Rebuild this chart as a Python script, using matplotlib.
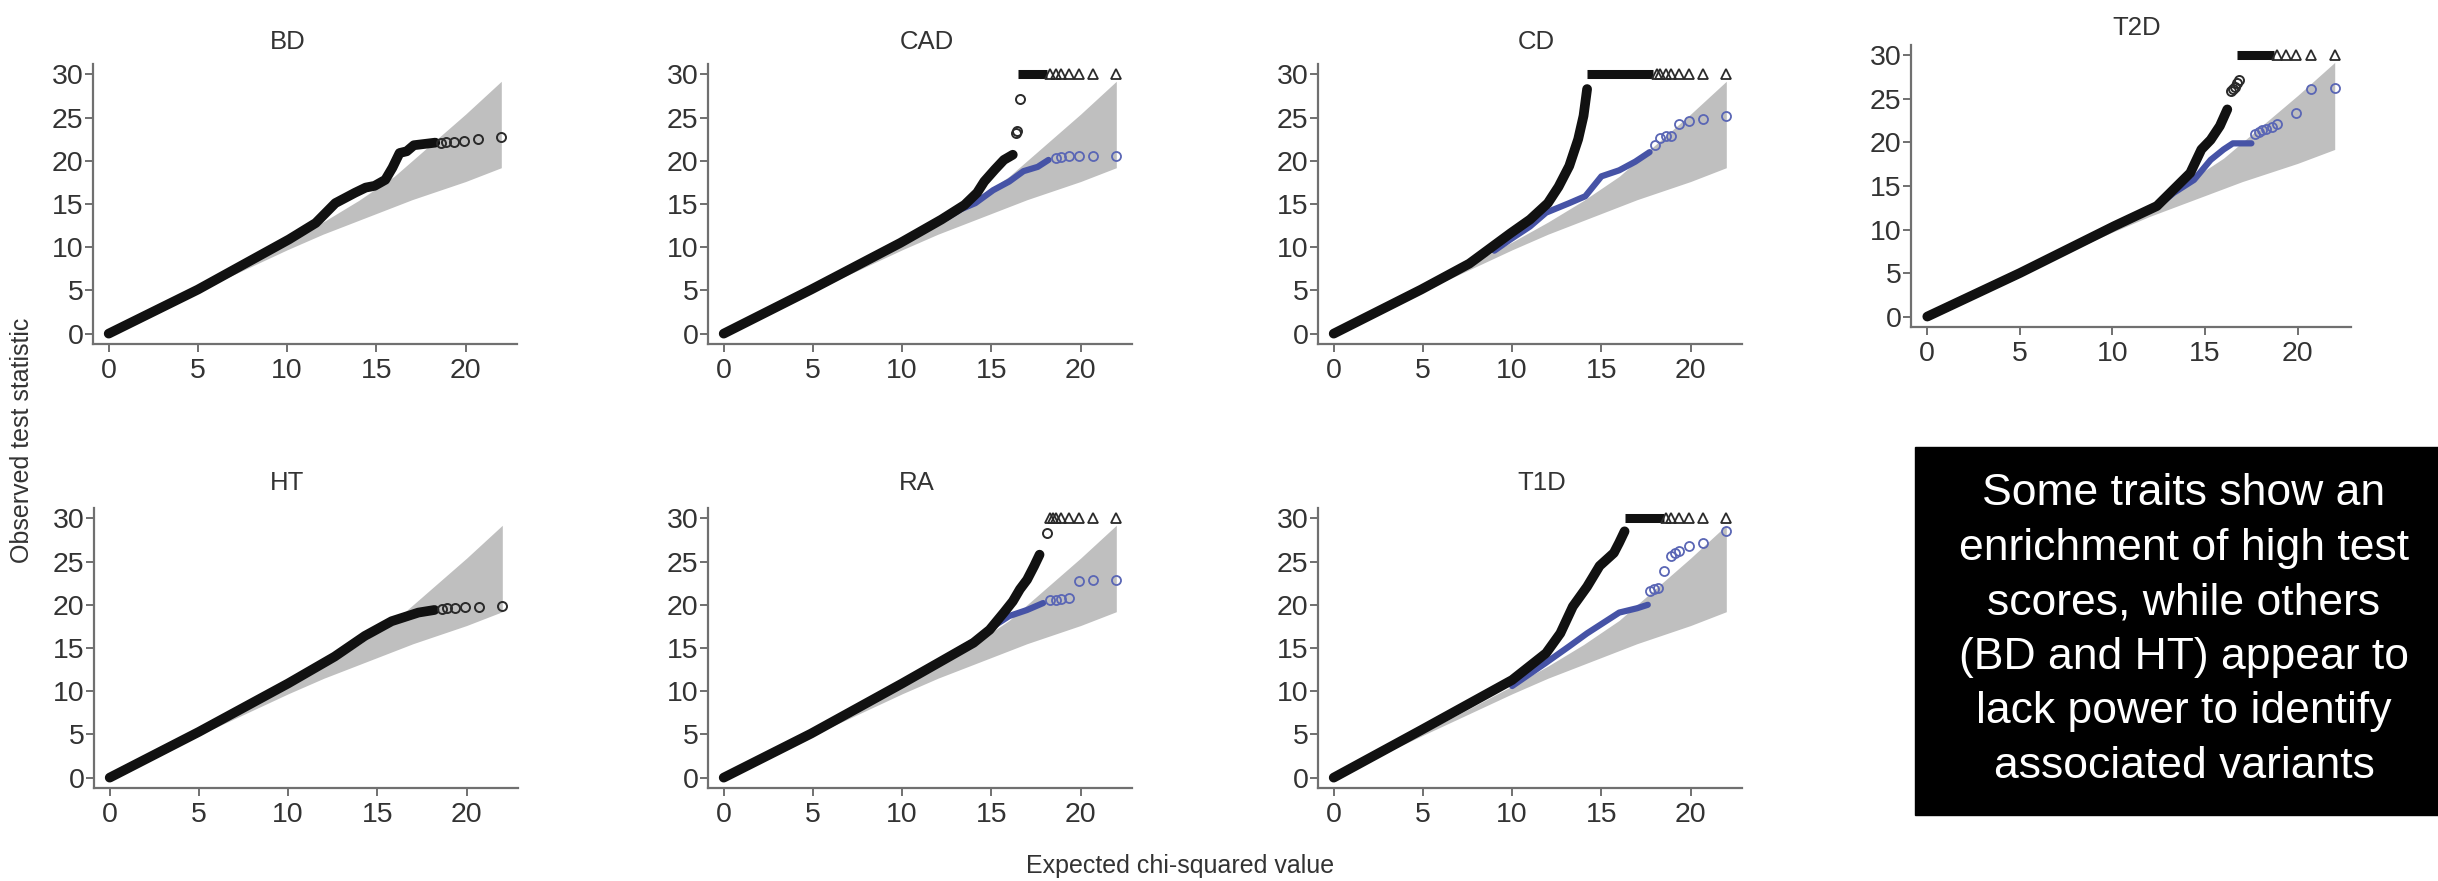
import numpy as np
import matplotlib.pyplot as plt
from matplotlib.patches import Rectangle

plt.rcParams['font.family'] = ['Liberation Sans', 'DejaVu Sans']

# 95% null band shared by all traits
BAND_X = [0, 5, 10, 12, 14, 15, 16, 17, 18, 19, 20, 21, 22]
BAND_HI = [0, 5.15, 10.6, 12.9, 15.4, 16.8, 18.2, 20.0, 21.8, 23.6, 25.4, 27.3, 29.2]
BAND_LO = [0, 4.9, 9.7, 11.5, 13.1, 13.9, 14.7, 15.5, 16.2, 16.9, 17.6, 18.4, 19.2]

# BD
BD_OBS_X = [0, 5.0, 10.1, 11.6, 12.7, 13.8, 14.4, 14.9, 15.5, 15.9, 16.3, 16.7, 17.1, 18.3]
BD_OBS_Y = [0, 5.1, 10.9, 12.8, 15.1, 16.3, 16.9, 17.1, 17.8, 19.2, 20.9, 21.1, 21.8, 22.1]
BD_TAIL_X = [18.6, 18.9, 19.35, 19.9, 20.7, 22.0]
BD_TAIL_Y = [22.1, 22.15, 22.2, 22.3, 22.5, 22.8]

# CAD
CAD_OBS_X = [0, 4.9, 9.9, 12.2, 13.5, 14.2, 14.6, 15.2, 15.7, 16.2]
CAD_OBS_Y = [0, 5.1, 10.5, 13.2, 14.9, 16.3, 17.6, 19.0, 20.1, 20.7]
CAD_TAIL_X = [16.4, 16.45, 16.6]
CAD_TAIL_Y = [23.2, 23.4, 27.2]
CAD_CAP_RUN = [16.5, 18.1]
CAD_CAP_X = [18.3, 18.6, 18.9, 19.35, 19.9, 20.7, 22.0]
CAD_ADJ_X = [12.5, 13.3, 14.1, 15.1, 16.0, 16.8, 17.6, 18.2]
CAD_ADJ_Y = [13.4, 14.4, 15.1, 16.6, 17.6, 18.8, 19.3, 20.1]
CAD_ADJ_TAIL_X = [18.6, 18.9, 19.35, 19.9, 20.7, 22.0]
CAD_ADJ_TAIL_Y = [20.3, 20.4, 20.5, 20.5, 20.5, 20.5]

# CD
CD_OBS_X = [0, 4.9, 7.6, 9.9, 11.0, 12.0, 12.6, 13.2, 13.7, 14.0, 14.2]
CD_OBS_Y = [0, 5.1, 8.1, 11.6, 13.2, 15.1, 17.0, 19.4, 22.5, 25.2, 28.3]
CD_CAP_RUN = [14.2, 17.9]
CD_CAP_X = [18.1, 18.3, 18.6, 18.9, 19.35, 19.9, 20.7, 22.0]
CD_ADJ_X = [9.0, 9.9, 11.0, 11.9, 13.2, 14.1, 15.0, 16.0, 16.9, 17.7]
CD_ADJ_Y = [9.6, 10.9, 12.4, 14.0, 15.1, 15.9, 18.2, 18.9, 19.9, 21.0]
CD_ADJ_TAIL_X = [18.0, 18.3, 18.6, 18.9, 19.35, 19.9, 20.7, 22.0]
CD_ADJ_TAIL_Y = [21.8, 22.6, 22.9, 22.9, 24.2, 24.6, 24.8, 25.2]

# T2D
T2D_OBS_X = [0, 5.0, 10.1, 12.4, 13.3, 14.2, 14.8, 15.3, 15.8, 16.2]
T2D_OBS_Y = [0, 5.0, 10.4, 12.7, 14.6, 16.5, 19.2, 20.3, 21.9, 23.8]
T2D_TAIL_X = [16.4, 16.5, 16.6, 16.75, 16.85]
T2D_TAIL_Y = [25.9, 26.2, 26.4, 26.8, 27.2]
T2D_CAP_RUN = [16.7, 18.7]
T2D_CAP_X = [18.9, 19.35, 19.9, 20.7, 22.0]
T2D_ADJ_X = [12.5, 13.3, 14.4, 15.3, 16.0, 16.5, 17.5]
T2D_ADJ_Y = [12.8, 14.2, 15.7, 18.0, 19.2, 19.9, 19.9]
T2D_ADJ_TAIL_X = [17.7, 17.9, 18.1, 18.3, 18.6, 18.9, 19.9, 20.7, 22.0]
T2D_ADJ_TAIL_Y = [21.0, 21.2, 21.4, 21.5, 21.8, 22.1, 23.4, 26.2, 26.3]

# HT
HT_OBS_X = [0, 5.0, 10.0, 12.6, 14.3, 15.8, 17.3, 18.2]
HT_OBS_Y = [0, 5.3, 10.9, 14.0, 16.4, 18.1, 19.1, 19.4]
HT_TAIL_X = [18.6, 18.9, 19.35, 19.9, 20.7, 22.0]
HT_TAIL_Y = [19.5, 19.6, 19.6, 19.8, 19.8, 19.9]

# RA
RA_OBS_X = [0, 4.9, 10.0, 12.3, 14.0, 14.9, 15.7, 16.2, 16.6, 17.0, 17.4, 17.7]
RA_OBS_Y = [0, 5.1, 10.9, 13.6, 15.6, 17.1, 19.1, 20.4, 21.8, 22.9, 24.5, 25.8]
RA_TAIL_X = [18.1]
RA_TAIL_Y = [28.3]
RA_CAP_X = [18.3, 18.45, 18.6, 18.9, 19.35, 19.9, 20.7, 22.0]
RA_ADJ_X = [12.5, 13.2, 14.2, 15.1, 16.0, 17.0, 17.9]
RA_ADJ_Y = [13.9, 14.8, 16.0, 17.5, 18.7, 19.4, 20.2]
RA_ADJ_TAIL_X = [18.3, 18.6, 18.9, 19.35, 19.9, 20.7, 22.0]
RA_ADJ_TAIL_Y = [20.5, 20.6, 20.7, 20.8, 22.8, 22.9, 22.9]

# T1D
T1D_OBS_X = [0, 4.9, 10.0, 11.9, 12.7, 13.4, 14.2, 14.9, 15.7, 16.0, 16.3]
T1D_OBS_Y = [0, 5.5, 11.3, 14.4, 16.7, 19.8, 22.1, 24.5, 26.0, 27.2, 28.5]
T1D_CAP_RUN = [16.3, 18.5]
T1D_CAP_X = [18.6, 18.9, 19.35, 19.9, 20.7, 22.0]
T1D_ADJ_X = [10.0, 11.9, 13.2, 14.2, 15.1, 16.0, 17.0, 17.6]
T1D_ADJ_Y = [10.6, 13.3, 15.2, 16.7, 17.9, 19.1, 19.6, 20.0]
T1D_ADJ_TAIL_X = [17.7, 17.95, 18.2, 18.5, 18.9, 19.1, 19.35, 19.9, 20.7, 22.0]
T1D_ADJ_TAIL_Y = [21.6, 21.8, 22.0, 23.9, 25.6, 26.0, 26.2, 26.8, 27.2, 28.5]

CAP = 30

NOTE = ("Some traits show an\nenrichment of high test\nscores, while others\n"
        "(BD and HT) appear to\nlack power to identify\nassociated variants")

panels = {
    'BD': dict(obs=(BD_OBS_X, BD_OBS_Y), tail=(BD_TAIL_X, BD_TAIL_Y)),
    'CAD': dict(obs=(CAD_OBS_X, CAD_OBS_Y), tail=(CAD_TAIL_X, CAD_TAIL_Y),
                run=CAD_CAP_RUN, cap=CAD_CAP_X,
                adj=(CAD_ADJ_X, CAD_ADJ_Y), adj_tail=(CAD_ADJ_TAIL_X, CAD_ADJ_TAIL_Y)),
    'CD': dict(obs=(CD_OBS_X, CD_OBS_Y), run=CD_CAP_RUN, cap=CD_CAP_X,
               adj=(CD_ADJ_X, CD_ADJ_Y), adj_tail=(CD_ADJ_TAIL_X, CD_ADJ_TAIL_Y)),
    'T2D': dict(obs=(T2D_OBS_X, T2D_OBS_Y), tail=(T2D_TAIL_X, T2D_TAIL_Y),
                run=T2D_CAP_RUN, cap=T2D_CAP_X,
                adj=(T2D_ADJ_X, T2D_ADJ_Y), adj_tail=(T2D_ADJ_TAIL_X, T2D_ADJ_TAIL_Y)),
    'HT': dict(obs=(HT_OBS_X, HT_OBS_Y), tail=(HT_TAIL_X, HT_TAIL_Y)),
    'RA': dict(obs=(RA_OBS_X, RA_OBS_Y), tail=(RA_TAIL_X, RA_TAIL_Y), cap=RA_CAP_X,
               adj=(RA_ADJ_X, RA_ADJ_Y), adj_tail=(RA_ADJ_TAIL_X, RA_ADJ_TAIL_Y)),
    'T1D': dict(obs=(T1D_OBS_X, T1D_OBS_Y), run=T1D_CAP_RUN, cap=T1D_CAP_X,
                adj=(T1D_ADJ_X, T1D_ADJ_Y), adj_tail=(T1D_ADJ_TAIL_X, T1D_ADJ_TAIL_Y)),
}

# axes boxes in pixels: left, top, width, height, title x/y (axes fraction)
W, H = 2438, 881
layout = {
    'BD': (93, 64, 424, 280, 0.46, 1.078),
    'CAD': (708, 64, 424, 280, 0.516, 1.078),
    'CD': (1318, 64, 424, 280, 0.516, 1.078),
    'T2D': (1911, 45, 440, 282, 0.514, 1.062),
    'HT': (94, 508, 424, 280, 0.455, 1.088),
    'RA': (708, 508, 424, 280, 0.493, 1.088),
    'T1D': (1318, 508, 424, 280, 0.528, 1.088),
}

BLACK = '#111111'
BLUE = '#4653a6'
GREY_TXT = '#333333'
AXIS = '#707070'

fig = plt.figure(figsize=(W / 100, H / 100), dpi=100)

for name, d in panels.items():
    left, top, w, h, tx, ty = layout[name]
    ax = fig.add_axes([left / W, (H - top - h) / H, w / W, h / H])

    ax.fill_between(BAND_X, BAND_LO, BAND_HI, color='#bfbfbf', lw=0, zorder=1)

    if 'adj' in d:
        ax.plot(*d['adj'], color=BLUE, lw=4.5, solid_capstyle='round', zorder=2)
        ax.plot(*d['adj_tail'], ls='none', marker='o', ms=6.5, mfc='none',
                mec='#5a66b5', mew=1.3, zorder=2)

    ax.plot(*d['obs'], color=BLACK, lw=7, solid_capstyle='round',
            solid_joinstyle='round', zorder=3)
    if 'tail' in d:
        ax.plot(*d['tail'], ls='none', marker='o', ms=6.5, mfc='none',
                mec='#2a2a2a', mew=1.4, zorder=3)
    if 'run' in d:
        ax.plot(d['run'], [CAP, CAP], color=BLACK, lw=6.5,
                solid_capstyle='butt', zorder=3, clip_on=False)
    if 'cap' in d:
        ax.plot(d['cap'], [CAP] * len(d['cap']), ls='none', marker='^', ms=7,
                mfc='none', mec='#2a2a2a', mew=1.3, zorder=3, clip_on=False)

    ax.set_xlim(-0.88, 22.88)
    ax.set_ylim(-1.2, 31.2)
    ax.set_xticks([0, 5, 10, 15, 20])
    ax.set_yticks([0, 5, 10, 15, 20, 25, 30])
    for s in ['top', 'right']:
        ax.spines[s].set_visible(False)
    for s in ['left', 'bottom']:
        ax.spines[s].set_color(AXIS)
        ax.spines[s].set_linewidth(1.6)
    ax.tick_params(axis='both', colors=AXIS, length=6, width=1.4,
                   labelsize=20.5, labelcolor=GREY_TXT)
    ax.tick_params(axis='y', pad=1)
    ax.tick_params(axis='x', pad=4)
    ax.text(tx, ty, name, transform=ax.transAxes, ha='center', va='center',
            fontsize=18.5, color=GREY_TXT)

fig.text(22 / W, 1 - 440 / H, 'Observed test statistic', rotation=90,
         ha='center', va='center', fontsize=18, color=GREY_TXT)
fig.text(1180 / W, 1 - 866 / H, 'Expected chi-squared value',
         ha='center', va='center', fontsize=18, color=GREY_TXT)

fig.add_artist(Rectangle((1915 / W, 66 / H), 0.25, 368 / H,
                         transform=fig.transFigure, color='black', zorder=0))
fig.text(2184 / W, 1 - 630 / H, NOTE, ha='center', va='center', color='white',
         fontsize=32, linespacing=1.42)

fig.savefig('out.png', dpi=100)
